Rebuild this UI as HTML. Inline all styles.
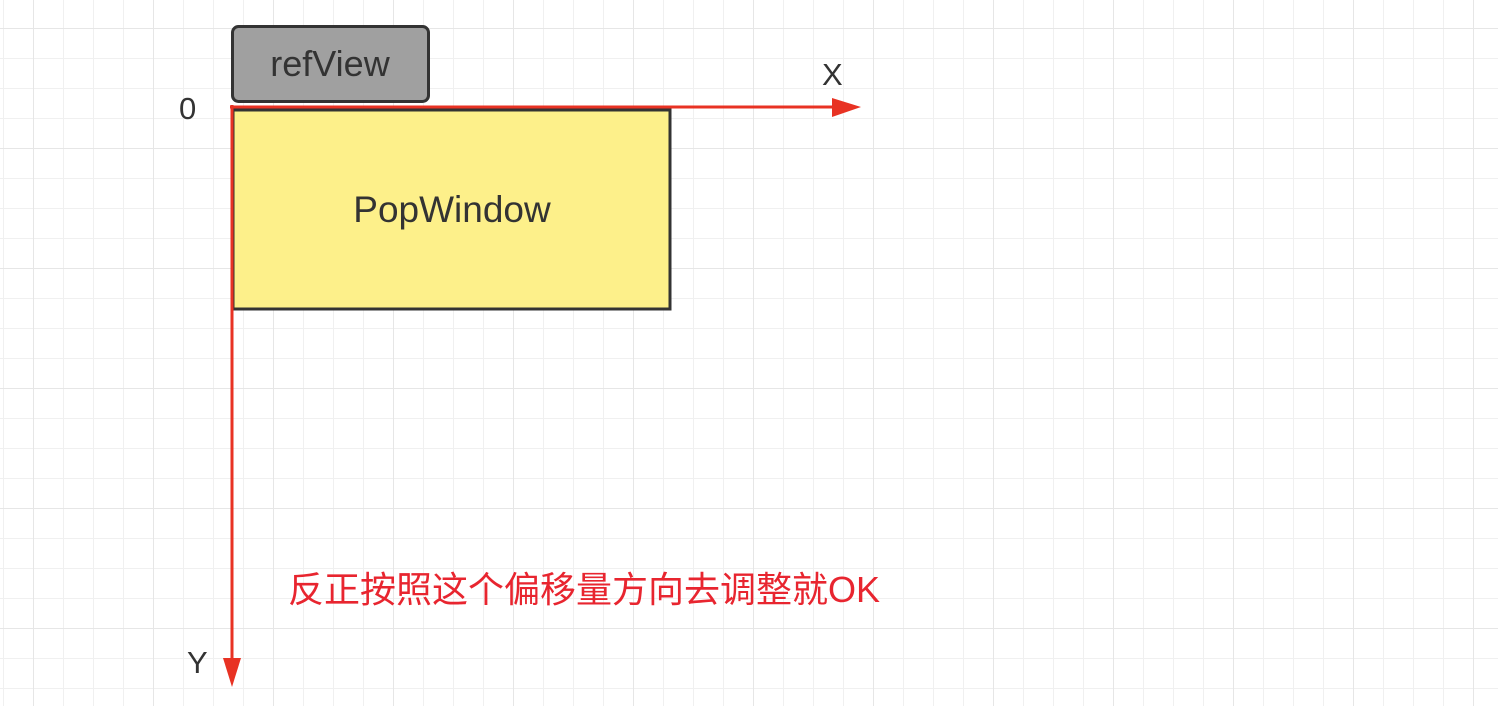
<!DOCTYPE html>
<html><head><meta charset="utf-8"><style>
body{margin:0;width:1498px;height:706px;overflow:hidden;background:#fff;font-family:"Liberation Sans","Noto Sans CJK SC",sans-serif}
</style></head><body>
<svg width="1498" height="706" xmlns="http://www.w3.org/2000/svg">
<defs>
<pattern id="minor" width="30" height="30" patternUnits="userSpaceOnUse" x="3" y="-2">
<path d="M0 0H30M0 0V30" stroke="#f0f0f0" stroke-width="2" fill="none"/>
</pattern>
<pattern id="major" width="120" height="120" patternUnits="userSpaceOnUse" x="33" y="28">
<path d="M0 0H120M0 0V120" stroke="#e6e6e6" stroke-width="2" fill="none"/>
</pattern>
</defs>
<rect width="1498" height="706" fill="url(#minor)"/>
<rect width="1498" height="706" fill="url(#major)"/>
<rect x="232.5" y="26.5" width="196" height="75" rx="6" fill="#a0a0a0" stroke="#333" stroke-width="3"/>
<text x="330" y="76" font-size="36" fill="#333" text-anchor="middle">refView</text>
<rect x="233" y="110" width="437" height="199" fill="#fdf08a" stroke="#333" stroke-width="3"/>
<text x="452" y="222" font-size="37" fill="#333" text-anchor="middle">PopWindow</text>
<line x1="230" y1="107" x2="836" y2="107" stroke="#e83223" stroke-width="3"/>
<polygon points="832,98 861,107 832,117" fill="#e83223"/>
<line x1="232" y1="105" x2="232" y2="662" stroke="#e83223" stroke-width="3"/>
<polygon points="223,658 232,687 241,658" fill="#e83223"/>
<text x="179" y="119" font-size="31" fill="#333">0</text>
<text x="822" y="85" font-size="31" fill="#333">X</text>
<text x="187" y="673" font-size="31" fill="#333">Y</text>
<text x="288" y="602" font-size="36" fill="#e8252f">反正按照这个偏移量方向去调整就OK</text>
</svg>
</body></html>
